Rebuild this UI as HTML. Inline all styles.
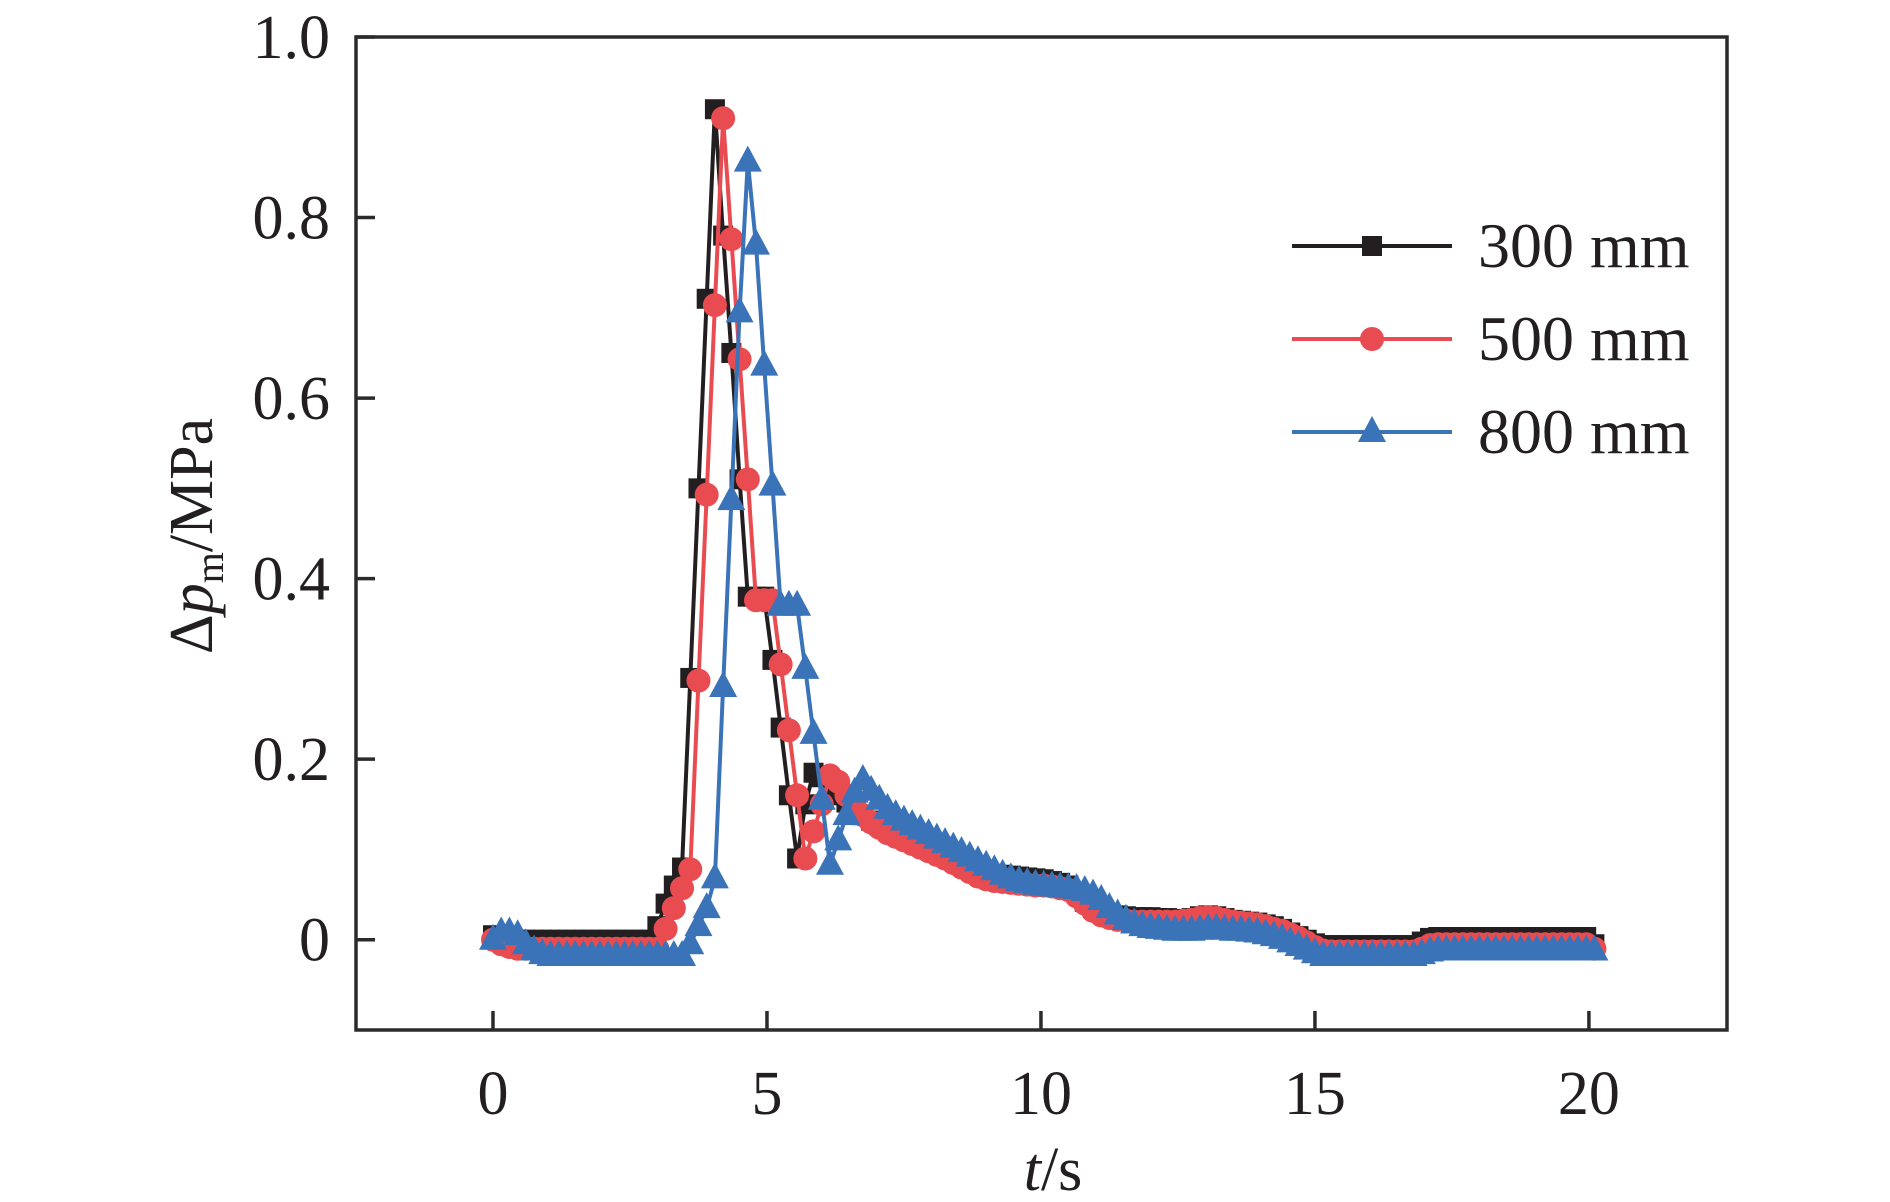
<!DOCTYPE html>
<html><head><meta charset="utf-8"><style>
html,body{margin:0;padding:0;background:#fff;}
svg{display:block;}
text{font-family:"Liberation Serif","Times New Roman",serif;fill:#231f20;}
</style></head><body>
<svg id="chart" width="1890" height="1202" viewBox="0 0 1890 1202" xmlns="http://www.w3.org/2000/svg">
<g id="plot"></g>
<rect x="356" y="37" width="1371" height="993" fill="none" stroke="#2b2b2b" stroke-width="3.5"/>
<g id="ticks"></g>
<text transform="translate(212,536) rotate(-90)" text-anchor="middle" font-size="62">Δ<tspan font-style="italic">p</tspan><tspan font-size="40" dy="11">m</tspan><tspan dy="-11">/MPa</tspan></text>
<text x="1053" y="1190" text-anchor="middle" font-size="62"><tspan font-style="italic">t</tspan>/s</text>
<g id="legend"></g>
</svg>
<script>
const tGrid=[0,0.15,0.3,0.45,0.6,0.75,0.9,1.05,1.2,1.35,1.5,1.65,1.8,1.95,2.1,2.25,2.4,2.55,2.7,2.85,3.0,3.15,3.3,3.45,3.6,3.75,3.9,4.05,4.2,4.35,4.5,4.65,4.8,4.95,5.1,5.25,5.4,5.55,5.7,5.85,6.0,6.15,6.3,6.45,6.6,6.75,6.9,7.05,7.2,7.35,7.5,7.65,7.8,7.95,8.1,8.25,8.4,8.55,8.7,8.85,9.0,9.15,9.3,9.45,9.6,9.75,9.9,10.05,10.2,10.35,10.5,10.65,10.8,10.95,11.1,11.25,11.4,11.55,11.7,11.85,12.0,12.15,12.3,12.45,12.6,12.75,12.9,13.05,13.2,13.35,13.5,13.65,13.8,13.95,14.1,14.25,14.4,14.55,14.7,14.85,15.0,15.15,15.3,15.45,15.6,15.75,15.9,16.05,16.2,16.35,16.5,16.65,16.8,16.95,17.1,17.25,17.4,17.55,17.7,17.85,18.0,18.15,18.3,18.45,18.6,18.75,18.9,19.05,19.2,19.35,19.5,19.65,19.8,19.95,20.1];
const s300=[0.005,0.003,0.002,0.0, 0,0,0,0,0,0,0,0,0,0,0,0,0,0,0,0, 0.015,0.04,0.06,0.08, 0.29,0.5,0.71,0.92, 0.78,0.65,0.51,0.38,0.38,0.38, 0.31,0.235,0.16,0.09, 0.15,0.185,0.18,0.17,0.16,0.152,0.145, 0.138,0.132,0.127,0.122,0.118,0.114,0.11,0.106,0.102,0.098,0.094,0.09,0.086,0.082,0.078, 0.075,0.073,0.072,0.071,0.07,0.069,0.068,0.067,0.065,0.063,0.06, 0.052,0.042,0.035,0.03,0.028,0.027,0.026,0.025,0.025,0.025, 0.024,0.024,0.023,0.023,0.024, 0.026,0.027,0.026,0.024,0.022,0.021,0.02,0.019,0.017,0.015,0.012,0.008,0.004,0.0,-0.004,-0.006, -0.006,-0.006,-0.006,-0.006,-0.006,-0.006,-0.006,-0.006,-0.006,-0.006,-0.006, -0.002,0.002, 0.003,0.003,0.003,0.003,0.003,0.003,0.003,0.003,0.003,0.003,0.003,0.003,0.003,0.003,0.003,0.003,0.003,0.003,0.003, -0.005];
const s500=[0.0,-0.005,-0.008,-0.01, -0.01,-0.01,-0.01,-0.01,-0.01,-0.01,-0.01,-0.01,-0.01,-0.01,-0.01,-0.01,-0.01,-0.01,-0.01,-0.01,-0.01, 0.012,0.035,0.057,0.078,0.287,0.493,0.703, 0.91,0.776,0.643,0.51,0.376,0.376,0.376, 0.305,0.232,0.16,0.09,0.12,0.15,0.182,0.175,0.16,0.148, 0.138,0.13,0.124,0.118,0.114,0.11,0.106,0.102,0.098,0.094,0.09,0.085,0.08,0.075,0.07, 0.067,0.065,0.064,0.063,0.062,0.061,0.06,0.06,0.059,0.057,0.055, 0.048,0.04,0.032,0.027,0.024,0.022,0.021,0.02,0.02,0.02, 0.02,0.02,0.02,0.021,0.022, 0.024,0.025,0.024,0.022,0.02,0.019,0.018,0.017,0.015,0.012,0.01,0.006,0.002,-0.003,-0.008,-0.012, -0.013,-0.013,-0.013,-0.013,-0.013,-0.013,-0.013,-0.013,-0.013,-0.013,-0.013, -0.01,-0.006, -0.005,-0.005,-0.005,-0.005,-0.005,-0.005,-0.005,-0.005,-0.005,-0.005,-0.005,-0.005,-0.005,-0.005,-0.005,-0.005,-0.005,-0.005,-0.005, -0.01];
const s800=[0.0,0.008,0.008,0.005,-0.005,-0.012,-0.016, -0.018,-0.018,-0.018,-0.018,-0.018,-0.018,-0.018,-0.018,-0.018,-0.018,-0.018,-0.018,-0.018,-0.018,-0.018,-0.018,-0.018, -0.005,0.015,0.035,0.068, 0.28,0.487,0.695,0.862,0.77,0.636,0.503, 0.37,0.37,0.37, 0.3,0.228,0.155,0.083,0.11,0.138,0.163,0.177,0.165,0.155,0.145, 0.138,0.132,0.127,0.122,0.117,0.112,0.107,0.102,0.097,0.092,0.087, 0.082,0.077,0.072,0.068,0.065,0.063,0.061,0.06,0.059,0.058,0.057, 0.056,0.054,0.05,0.044,0.035,0.028,0.022,0.018,0.015,0.013, 0.012,0.011,0.01,0.01,0.01, 0.011,0.012,0.012,0.011,0.01,0.01,0.009,0.008,0.006,0.004,0.001,-0.003,-0.007,-0.011,-0.015,-0.018, -0.018,-0.018,-0.018,-0.018,-0.018,-0.018,-0.018,-0.018,-0.018,-0.018,-0.018, -0.016,-0.013, -0.012,-0.012,-0.012,-0.012,-0.012,-0.012,-0.012,-0.012,-0.012,-0.012,-0.012,-0.012,-0.012,-0.012,-0.012,-0.012,-0.012,-0.012,-0.012, -0.012];
const seriesNames=["300 mm","500 mm","800 mm"];
const xTicks=[0,5,10,15,20];
const yTicks=[0,0.2,0.4,0.6,0.8,1.0];
const yTickLabels=["0","0.2","0.4","0.6","0.8","1.0"];

const NS="http://www.w3.org/2000/svg";
const X0=356,X1=1727,Y0=37,Y1=1030;
const xmin=-2.5,xmax=22.52,ymin=-0.1,ymax=1.0;
const xs=v=>X0+(v-xmin)/(xmax-xmin)*(X1-X0);
const ys=v=>Y1-(v-ymin)/(ymax-ymin)*(Y1-Y0);
function mk(tag,attrs,parent){const e=document.createElementNS(NS,tag);for(const k in attrs)e.setAttribute(k,attrs[k]);parent.appendChild(e);return e;}

const ticks=document.getElementById('ticks');
xTicks.forEach(v=>{
  const l=mk('line',{x1:xs(v),x2:xs(v),y1:Y1,y2:Y1-19,stroke:'#2b2b2b','stroke-width':3.5},ticks);
  
  
  const t=mk('text',{x:xs(v),y:1114,'text-anchor':'middle','font-size':62},ticks);
  t.textContent=String(v);
  
  
});
yTicks.forEach((v,i)=>{
  const l=mk('line',{x1:X0,x2:X0+19,y1:ys(v),y2:ys(v),stroke:'#2b2b2b','stroke-width':3.5},ticks);
  
  
  const t=mk('text',{x:330,y:ys(v)+21,'text-anchor':'end','font-size':62},ticks);
  t.textContent=yTickLabels[i];
  
  
});

const colors=["#231f20","#e84c51","#3a73b8"];
const shapes=["square","circle","triangle"];
function marker(shape,cx,cy,color,parent){
  let e;
  if(shape==='square') e=mk('rect',{x:cx-10,y:cy-10,width:20,height:20,fill:color},parent);
  else if(shape==='circle') e=mk('circle',{cx:cx,cy:cy,r:12,fill:color},parent);
  else e=mk('polygon',{points:`${cx},${cy-16} ${cx+14},${cy+10} ${cx-14},${cy+10}`,fill:color},parent);
  return e;
}
const plot=document.getElementById('plot');
[s300,s500,s800].forEach((s,k)=>{
  const g=mk('g',{},plot);
  
  
  const d=s.map((v,i)=>(i?'L':'M')+xs(tGrid[i]).toFixed(1)+','+ys(v).toFixed(1)).join(' ');
  const p=mk('path',{d:d,fill:'none',stroke:colors[k],'stroke-width':4,'stroke-linejoin':'round'},g);
  
  
  s.forEach((v,i)=>{
    const m=marker(shapes[k],xs(tGrid[i]),ys(v),colors[k],g);
    
    
  });
});

const legend=document.getElementById('legend');
[246,339,432].forEach((y,k)=>{
  const g=mk('g',{},legend);
  
  
  mk('line',{x1:1292,x2:1452,y1:y,y2:y,stroke:colors[k],'stroke-width':4},g);
  marker(shapes[k],1372,y,colors[k],g);
  const t=mk('text',{x:1478,y:y+21,'font-size':64},g);
  t.textContent=seriesNames[k];
});
</script>
</body></html>
